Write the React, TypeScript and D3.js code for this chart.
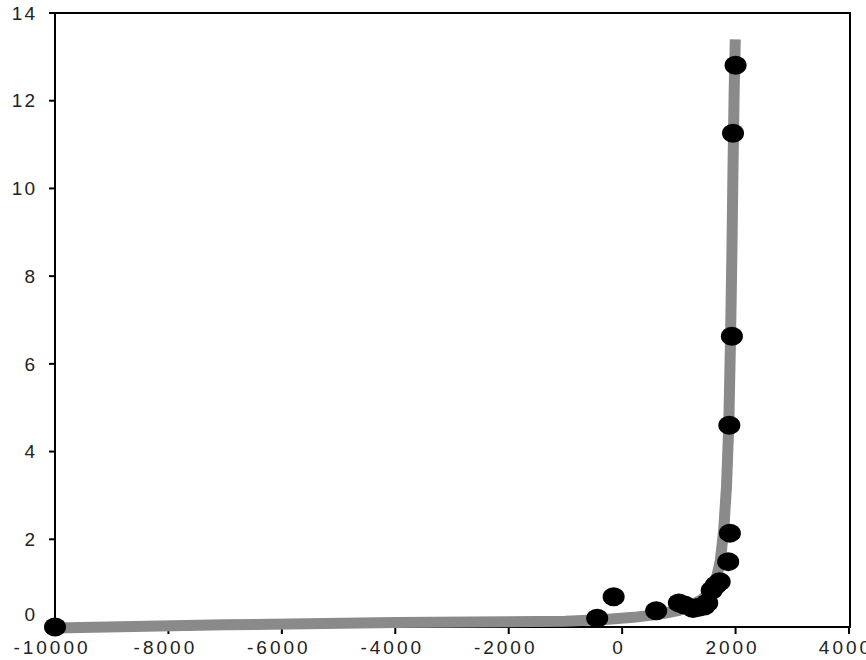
import React, { useEffect, useRef } from 'react';
import * as d3 from 'd3';

// fitted curve
const curveX = [-10000, -7000, -4000, -1000, -300, 200, 700, 1000, 1200, 1400, 1550, 1650, 1730, 1790, 1840, 1880, 1910, 1935, 1955, 1975, 1995];
const curveY = [-0.02, 0.05, 0.1, 0.13, 0.17, 0.22, 0.3, 0.38, 0.48, 0.62, 0.8, 1.05, 1.5, 2.2, 3.2, 4.6, 6.5, 8.5, 10.5, 12.2, 13.4];

// observed points
const pointX = [-10000, -440, -150, 600, 1000, 1100, 1250, 1350, 1450, 1500, 1580, 1650, 1720, 1870, 1900, 1890, 1935, 1955, 2000];
const pointY = [0.0, 0.2, 0.69, 0.37, 0.55, 0.5, 0.42, 0.45, 0.48, 0.55, 0.84, 0.95, 1.03, 1.49, 2.14, 4.6, 6.63, 11.26, 12.81];

const xTicks = [-10000, -8000, -6000, -4000, -2000, 0, 2000, 4000];
const yTicks = [0, 2, 4, 6, 8, 10, 12, 14];

function App() {
  const ref = useRef(null);

  useEffect(() => {
    const svg = d3.select(ref.current);
    svg.selectAll('*').remove();

    const left = 55, right = 850, top = 13, bottom = 627;
    const x = d3.scaleLinear().domain([-10000, 4000]).range([left, right - 1]);
    const y = d3.scaleLinear().domain([0, 14]).range([bottom, top]);

    const font = "'Liberation Sans', Arial, sans-serif";

    // frame
    svg.append('rect')
      .attr('x', left).attr('y', top)
      .attr('width', right - left).attr('height', bottom - top)
      .attr('fill', 'none').attr('stroke', '#000').attr('stroke-width', 2);

    // y ticks
    const yg = svg.append('g');
    yg.selectAll('line').data(yTicks.filter((d) => d !== 0)).enter().append('line')
      .attr('x1', left - 6).attr('x2', left)
      .attr('y1', (d) => y(d)).attr('y2', (d) => y(d))
      .attr('stroke', '#000').attr('stroke-width', 2);
    yg.selectAll('text').data(yTicks).enter().append('text')
      .attr('x', 37)
      .attr('y', (d) => (d === 0 ? y(d) - 13 : y(d)))
      .attr('dy', '0.35em')
      .attr('text-anchor', 'end')
      .attr('font-family', font).attr('font-size', 19)
      .attr('letter-spacing', 2)
      .attr('fill', '#222')
      .text((d) => d);

    // x ticks
    const xg = svg.append('g');
    xg.selectAll('line').data(xTicks.filter((d) => d !== -10000)).enter().append('line')
      .attr('x1', (d) => x(d)).attr('x2', (d) => x(d))
      .attr('y1', bottom).attr('y2', bottom + 7)
      .attr('stroke', '#000').attr('stroke-width', 2);
    xg.selectAll('text').data(xTicks).enter().append('text')
      .attr('x', (d) => x(d) - 3)
      .attr('y', 647)
      .attr('dy', '0.35em')
      .attr('text-anchor', 'middle')
      .attr('font-family', font).attr('font-size', 19)
      .attr('letter-spacing', 3)
      .attr('fill', '#222')
      .text((d) => d);

    // curve
    const line = d3.line<number>()
      .x((_, i) => x(curveX[i]))
      .y((d) => y(d));
    svg.append('path')
      .datum(curveY)
      .attr('d', line)
      .attr('fill', 'none')
      .attr('stroke', '#8a8a8a')
      .attr('stroke-width', 11);

    // points
    svg.append('g').selectAll('ellipse').data(pointY).enter().append('ellipse')
      .attr('cx', (_, i) => x(pointX[i]))
      .attr('cy', (d) => y(d))
      .attr('rx', 11).attr('ry', 9.5)
      .attr('fill', '#000');
  }, []);

  return (
    <svg
      ref={ref}
      width={866}
      height={660}
      style={{ position: 'absolute', left: 0, top: 0, background: '#fff' }}
    />
  );
}

export default App;
